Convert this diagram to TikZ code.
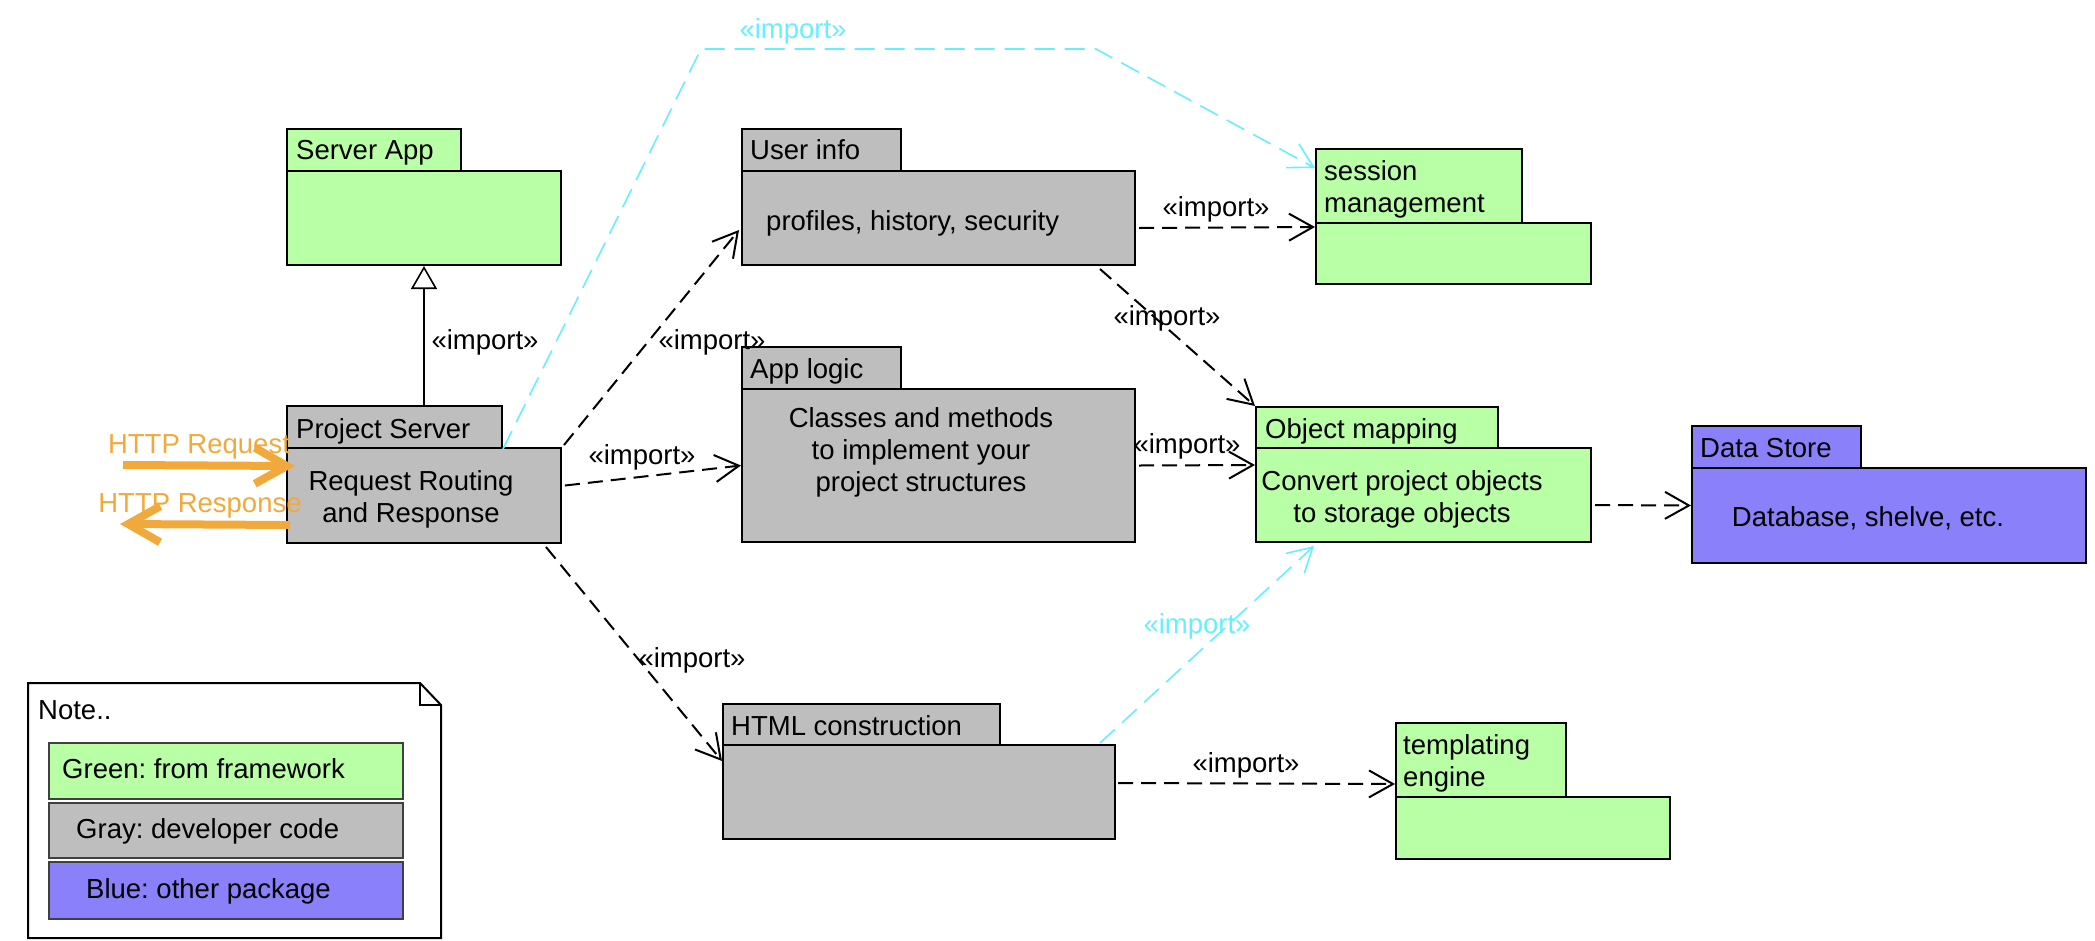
\documentclass[tikz,border=0pt]{standalone}
\usepackage{fontspec}
\setmainfont{Liberation Sans}
\usetikzlibrary{arrows.meta,calc}
\definecolor{pkggreen}{HTML}{B9FFA6}
\definecolor{pkggray}{HTML}{BEBEBE}
\definecolor{pkgblue}{HTML}{8A80FA}
\definecolor{httporange}{HTML}{F2A93C}
\definecolor{importcyan}{HTML}{66F0FF}

\begin{document}
\frenchspacing
\begin{tikzpicture}[x=1pt,y=-1pt,
  font=\fontsize{27.5pt}{32pt}\selectfont,
  box/.style={draw=black, line width=2pt, inner sep=0pt, anchor=north west},
  fwbox/.style={box, fill=pkggreen},
  devbox/.style={box, fill=pkggray},
  extbox/.style={box, fill=pkgblue},
  keybox/.style={draw=black!75, line width=1.5pt, inner sep=0pt, anchor=north west,
                 minimum width=354pt},
  txt/.style={inner sep=0pt},
  lbl/.style={inner sep=0pt},
  clbl/.style={inner sep=0pt, text=importcyan},
  dep/.style={draw=black, line width=2pt, dash pattern=on 15pt off 8pt,
              -{Straight Barb[length=24pt,width=27pt]}},
  cdep/.style={draw=importcyan, line width=1.6pt, dash pattern=on 20pt off 10pt,
               -{Straight Barb[length=24pt,width=27pt]}},
  http/.style={draw=httporange, line width=8pt,
               -{Straight Barb[length=32pt,width=36pt]}},
  gen/.style={draw=black, line width=1.6pt,
              -{Triangle[length=23pt,width=26pt,fill=white]}},
]
\useasboundingbox (0,0) rectangle (2095,940);

% ---------- packages: tab + body ----------
% Server App
\node[fwbox, minimum width=174pt, minimum height=42pt] (sat) at (286,128) {};
\node[fwbox, minimum width=274pt, minimum height=94pt] (sab) at (286,170) {};
\node[txt, anchor=base west] at (296,159) {Server App};

% Project Server
\node[devbox, minimum width=215pt, minimum height=42pt] (pst) at (286,405) {};
\node[devbox, minimum width=274pt, minimum height=95pt] (psb) at (286,447) {};
\node[txt, anchor=base west] at (296,438) {Project Server};
\node[txt, align=center] at (411,499) {Request Routing\\and Response};

% User info
\node[devbox, minimum width=159pt, minimum height=42pt] (uit) at (741,128) {};
\node[devbox, minimum width=393pt, minimum height=94pt] (uib) at (741,170) {};
\node[txt, anchor=base west] at (750,159) {User info};
\node[txt, anchor=base west] at (766,230) {profiles, history, security};

% App logic
\node[devbox, minimum width=159pt, minimum height=42pt] (alt) at (741,346) {};
\node[devbox, minimum width=393pt, minimum height=153pt] (alb) at (741,388) {};
\node[txt, anchor=base west] at (750,378) {App logic};
\node[txt, align=center] at (921,452) {Classes and methods\\to implement your\\project structures};

% session management
\node[fwbox, minimum width=206pt, minimum height=74pt] (smt) at (1315,148) {};
\node[fwbox, minimum width=275pt, minimum height=61pt] (smb) at (1315,222) {};
\node[txt, anchor=west, align=left] at (1324,189) {session\\management};

% Object mapping
\node[fwbox, minimum width=242pt, minimum height=41pt] (omt) at (1255,406) {};
\node[fwbox, minimum width=335pt, minimum height=94pt] (omb) at (1255,447) {};
\node[txt, anchor=base west] at (1265,438) {Object mapping};
\node[txt, align=center] at (1402,499) {Convert project objects\\to storage objects};

% Data Store
\node[extbox, minimum width=169pt, minimum height=42pt] (dst) at (1691,425) {};
\node[extbox, minimum width=394pt, minimum height=95pt] (dsb) at (1691,467) {};
\node[txt, anchor=base west] at (1700,457) {Data Store};
\node[txt, anchor=base] at (1868,526) {Database, shelve, etc.};

% HTML construction
\node[devbox, minimum width=277pt, minimum height=41pt] (htt) at (722,703) {};
\node[devbox, minimum width=392pt, minimum height=94pt] (htb) at (722,744) {};
\node[txt, anchor=base west] at (731,735) {HTML construction};

% templating engine
\node[fwbox, minimum width=170pt, minimum height=74pt] (tet) at (1395,722) {};
\node[fwbox, minimum width=274pt, minimum height=62pt] (teb) at (1395,796) {};
\node[txt, anchor=west, align=left] at (1403,763) {templating\\engine};

% ---------- note with colour key ----------
\draw[line width=2pt, fill=white] (28,683) -- (420,683) -- (441,705) -- (441,938)
  -- (28,938) -- cycle;
\draw[line width=1.5pt] (420,683) -- (420,705) -- (441,705);
\node[txt, anchor=base west] at (38,719) {Note..};
\node[keybox, fill=pkggreen, minimum height=56pt] (keyg) at (48,742) {};
\node[keybox, fill=pkggray, minimum height=55pt] (keyd) at (48,802) {};
\node[keybox, fill=pkgblue, minimum height=57pt] (keyb) at (48,861) {};
\node[txt, anchor=base west] at (62,778) {Green: from framework};
\node[txt, anchor=base west] at (76,838) {Gray: developer code};
\node[txt, anchor=base west] at (86,898) {Blue: other package};

% ---------- generalization ----------
\draw[gen] ([xshift=138pt]pst.north west) -- ([xshift=138pt]sab.south west);
\node[lbl] at (485,342) {«import»};

% ---------- black import dependencies ----------
\draw[dep] ($(psb.north east)+(2,-2)$) -- ($(uib.west)+(-2,12)$);
\node[lbl] at (712,342) {«import»};
\draw[dep] ($(psb.east)+(3,-10)$) -- (alb.west);
\node[lbl] at (642,457) {«import»};
\draw[dep] ($(psb.south east)+(-16,3)$) -- ($(htb.north west)+(0,17)$);
\node[lbl] at (692,660) {«import»};
\draw[dep] ($(uib.east)+(3,10)$) -- ($(smb.north west)+(0,5)$);
\node[lbl] at (1216,209) {«import»};
\draw[dep] ($(uib.south east)+(-36,3)$) -- (omt.north west);
\node[lbl] at (1167,318) {«import»};
\draw[dep] ($(alb.east)+(3,0)$) -- ($(omb.north west)+(0,18)$);
\node[lbl] at (1187,446) {«import»};
\draw[dep] ($(omb.east)+(3,10)$) -- ($(dsb.west)+(0,-10)$);
\draw[dep] ($(htb.east)+(2,-9)$) -- ($(tet.south west)+(0,-14)$);
\node[lbl] at (1246,765) {«import»};

% ---------- cyan import dependencies ----------
\coordinate (bendA) at (701,49);
\coordinate (bendB) at (1096,49);
\draw[cdep] (pst.south east) -- (bendA) -- (bendB) -- ($(smt.north west)+(0,20)$);
\node[clbl] at (793,31) {«import»};
\draw[cdep] ($(htb.north east)+(-16,-1)$) -- ($(omb.south west)+(59,3)$);
\node[clbl] at (1197,626) {«import»};

% ---------- HTTP traffic ----------
\coordinate (reqfrom) at (123,465);
\coordinate (respto) at (120,524);
\draw[http] (reqfrom) -- ($(psb.west)+(9,-29.5)$);
\draw[http] ($(psb.west)+(4,29.5)$) -- (respto);
\node[txt, text=httporange] at (199,447) {HTTP Request};
\node[txt, text=httporange] at (200,506) {HTTP Response};

\end{tikzpicture}
\end{document}
